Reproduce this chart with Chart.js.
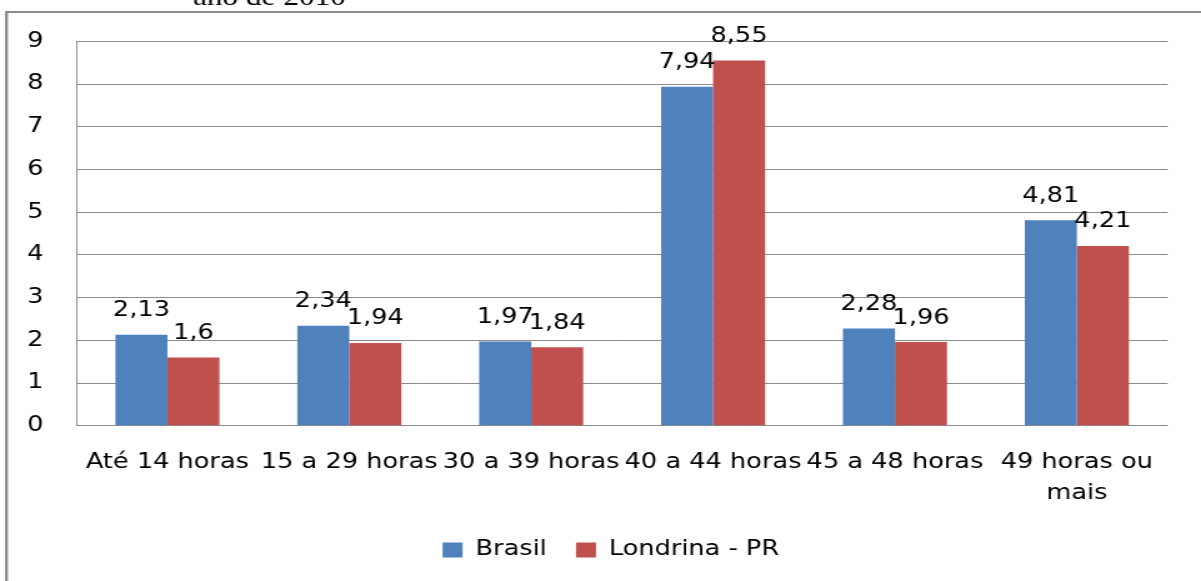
<!DOCTYPE html>
<html>
<head>
<meta charset="utf-8">
<script src="https://cdn.jsdelivr.net/npm/chart.js@4/dist/chart.umd.min.js"></script>
<style>
html,body{margin:0;padding:0;background:#fff;overflow:hidden;}
#c{display:block;width:1201px;height:581px;}
</style>
</head>
<body>
<canvas id="c" width="961" height="581" style="width:1201px;height:581px;"></canvas>
<script>
const categories = ['Até 14 horas', '15 a 29 horas', '30 a 39 horas', '40 a 44 horas', '45 a 48 horas', ['49 horas ou', 'mais']];
const brasil = [2.13, 2.34, 1.97, 7.94, 2.28, 4.81];
const londrina = [1.6, 1.94, 1.84, 8.55, 1.96, 4.21];
const seriesNames = ['Brasil', 'Londrina - PR'];
const yTicks = [0, 1, 2, 3, 4, 5, 6, 7, 8, 9];
const captionText = 'ano de 2010';

const FONT = 'DejaVu Sans';
const FS = 20.5;

const framePlugin = {
  id: 'frame',
  beforeDraw(chart) {
    const ctx = chart.ctx;
    ctx.save();
    ctx.fillStyle = '#fff';
    ctx.fillRect(0, 0, chart.width, chart.height);
    ctx.strokeStyle = '#8c8c8c';
    ctx.lineWidth = 2;
    ctx.beginPath();
    ctx.moveTo(4, 12);
    ctx.lineTo(chart.width, 12);
    ctx.stroke();
    ctx.lineWidth = 2.4;
    ctx.beginPath();
    ctx.moveTo(5.2, 11);
    ctx.lineTo(5.2, chart.height);
    ctx.stroke();
    ctx.fillStyle = '#000';
    ctx.font = '25px "Liberation Serif"';
    ctx.textAlign = 'left';
    ctx.textBaseline = 'alphabetic';
    ctx.fillText(captionText, 154.5, 4.5);
    ctx.restore();
  },
  afterLayout(chart) {
    const lg = chart.legend;
    if (lg) { lg.left += 21.6; lg.right += 21.6; }
  }
};

const valueLabels = {
  id: 'valueLabels',
  afterDatasetsDraw(chart) {
    const ctx = chart.ctx;
    ctx.save();
    ctx.font = FS + 'px "' + FONT + '"';
    ctx.fillStyle = '#000';
    ctx.textAlign = 'center';
    ctx.textBaseline = 'alphabetic';
    chart.data.datasets.forEach((ds, di) => {
      const meta = chart.getDatasetMeta(di);
      meta.data.forEach((el, i) => {
        const txt = String(ds.data[i]).replace('.', ',');
        ctx.fillText(txt, el.x, el.y - 18.5);
      });
    });
    ctx.restore();
  }
};

Chart.defaults.font.family = FONT;
Chart.defaults.font.size = FS;
Chart.defaults.color = '#000';

new Chart(document.getElementById('c'), {
  type: 'bar',
  data: {
    labels: categories,
    datasets: [
      { label: seriesNames[0], data: brasil, backgroundColor: '#4F81BD', borderWidth: 0 },
      { label: seriesNames[1], data: londrina, backgroundColor: '#C0504D', borderWidth: 0 }
    ]
  },
  options: {
    responsive: false,
    animation: false,
    datasets: { bar: { categoryPercentage: 0.572, barPercentage: 1 } },
    layout: { padding: { left: 0, right: 26.6, top: 41.4, bottom: 10.75 } },
    scales: {
      x: {
        grid: { display: false, drawTicks: false },
        border: { display: false },
        ticks: { padding: 22, color: '#000', font: { size: FS, lineHeight: 1.5 }, maxRotation: 0, autoSkip: false },
        afterFit(s) { s.height = 90.65; }
      },
      y: {
        min: 0, max: 9,
        afterBuildTicks(s) { s.ticks = yTicks.map(v => ({ value: v })); },
        grid: { color: '#8c8c8c', lineWidth: 1, drawTicks: false },
        border: { display: true, color: '#8c8c8c', width: 1 },
        ticks: { padding: 26.4, color: '#000', font: { size: FS } },
        afterFit(s) { s.width = 61.2; }
      }
    },
    plugins: {
      legend: {
        position: 'bottom',
        labels: { boxWidth: 16, boxHeight: 15, padding: 23.35, color: '#000', font: { size: FS } }
      },
      tooltip: { enabled: false },
      title: { display: false }
    }
  },
  plugins: [framePlugin, valueLabels]
});
</script>
</body>
</html>
